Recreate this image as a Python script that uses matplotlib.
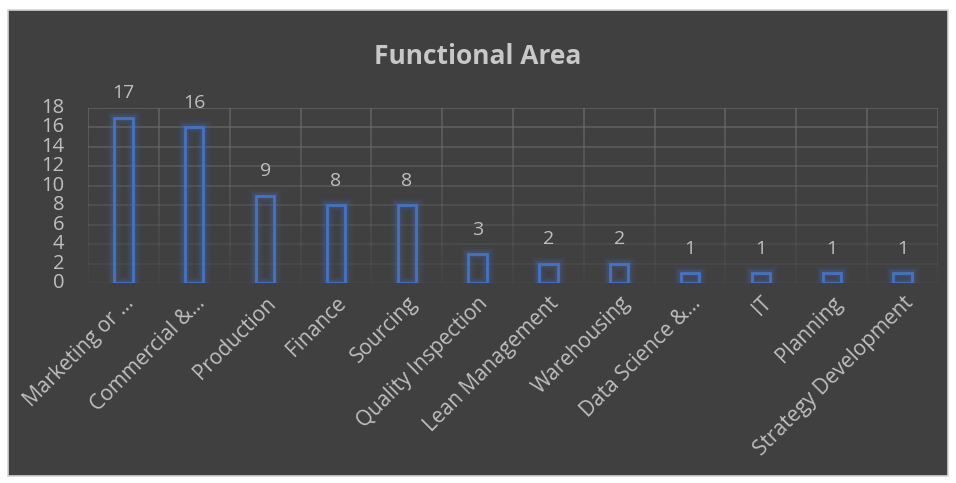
import matplotlib
matplotlib.use("Agg")
from matplotlib import pyplot as plt
from matplotlib.patches import Rectangle
import numpy as np

categories = ["Marketing or …", "Commercial &…", "Production", "Finance", "Sourcing",
              "Quality Inspection", "Lean Management", "Warehousing", "Data Science &…",
              "IT", "Planning", "Strategy Development"]
counts = [17, 16, 9, 8, 8, 3, 2, 2, 1, 1, 1, 1]
yticks = [0, 2, 4, 6, 8, 10, 12, 14, 16, 18]

plt.rcParams['font.family'] = ['Open Sans', 'DejaVu Sans']
txt = "#bfbfbf"
bg = "#404040"
blue = "#4472c4"

W, H = 956, 483
fig = plt.figure(figsize=(W / 100, H / 100), dpi=100)
fig.patch.set_facecolor("white")
fig.patches.append(Rectangle((8 / W, 7 / H), 940 / W, 466 / H, transform=fig.transFigure,
                             facecolor=bg, edgecolor="#d4d4d4", linewidth=1.2, zorder=-5))

ax = fig.add_axes([88 / W, 1 - 283 / H, 850 / W, 175 / H])
ax.set_zorder(1)
ax.set_facecolor("none")
n = len(categories)
x = np.arange(n)
ax.set_xlim(-0.5, n - 0.5)
ax.set_ylim(0, 18)

# gridlines fading toward the bottom
for v in yticks:
    a = 0.12 + 0.6 * v / 18
    ax.axhline(v, color="#6e6e6e", alpha=a, lw=1.2, zorder=1)
steps = 18
for k in range(n + 1):
    for s in range(steps):
        y0, y1 = s * 18 / steps, (s + 1) * 18 / steps
        ax.plot([k - 0.5, k - 0.5], [y0, y1], color="#6e6e6e",
                alpha=0.08 + 0.65 * (s + 0.5) / steps, lw=1.2, solid_capstyle="butt", zorder=1)

# glow
for lw, a in [(11, 0.05), (8, 0.07), (6, 0.1), (4, 0.14)]:
    ax.bar(x, counts, width=0.26, facecolor="none", edgecolor=blue, linewidth=lw, alpha=a, zorder=2)
ax.bar(x, counts, width=0.26, facecolor="none", edgecolor=blue, linewidth=2, zorder=3)

for xi, c in zip(x, counts):
    ax.annotate(str(c), (xi, c), xytext=(0, 11), textcoords="offset points",
                ha="center", va="bottom", color=txt, fontsize=14)

for sp in ax.spines.values():
    sp.set_visible(False)
ax.set_yticks(yticks)
ax.set_yticklabels([str(v) for v in yticks], color=txt, fontsize=14.5)
ax.tick_params(axis="y", length=0, pad=17)
ax.set_xticks(x)
ax.set_xticklabels(categories, rotation=45, ha="right", rotation_mode="anchor",
                   color=txt, fontsize=15)
ax.tick_params(axis="x", length=0, pad=7)
for lab in ax.get_yticklabels():
    lab.set_verticalalignment("center")

fig.text(478 / W, 1 - 57 / H, "Functional Area", ha="center", va="center",
         color="#c8c8c8", fontsize=19, fontweight="bold")

fig.savefig("out.png", dpi=100, facecolor=fig.get_facecolor())
